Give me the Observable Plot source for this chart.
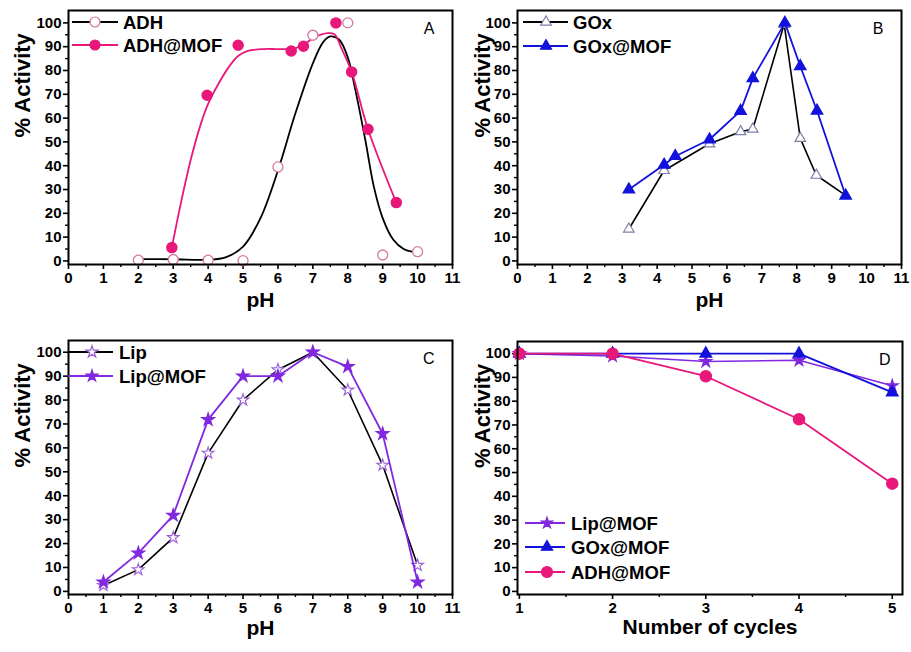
<!DOCTYPE html>
<html><head><meta charset="utf-8">
<script src="https://cdn.jsdelivr.net/npm/d3@7"></script>
<script src="https://cdn.jsdelivr.net/npm/@observablehq/plot@0.6"></script>
<style>
body{margin:0;background:#fff;}
#wrap{position:relative;width:911px;height:652px;overflow:hidden;background:#fff;}
.panel{position:absolute;}
</style></head>
<body><div id="wrap"></div>
<script>
// ---------- tick values ----------
const pHTicks = [0,1,2,3,4,5,6,7,8,9,10,11];
const pHMinor = [0.5,1.5,2.5,3.5,4.5,5.5,6.5,7.5,8.5,9.5,10.5];
const cycleTicks = [1,2,3,4,5];
const cycleMinor = [1.5,2.5,3.5,4.5];
const actTicks = [0,10,20,30,40,50,60,70,80,90,100];
const actMinor = [5,15,25,35,45,55,65,75,85,95];

// ---------- Panel A : ADH ----------
const adhPH   = [2,3,4,5,6,7,8,9,10];
const adhAct  = [0.3,0.6,0.3,0.1,39.5,94.8,100,2.5,3.9];
const adhFitPH  = [2,3,4,4.5,5.0,5.5,6.0,6.5,7.0,7.3,7.5,7.75,8.0,8.2,8.5,8.75,9.0,9.3,9.6,9.8,10];
const adhFitAct = [0.8,0.7,0.5,1.5,6,18,38,62,83,92,94.3,93,85.5,73,51,31,18,9,5,4,3.9];
const adhMofPH  = [2.96,3.97,4.86,6.38,6.73,7.66,8.11,8.58,9.39];
const adhMofAct = [5.6,69.6,90.6,88.2,90.2,100,79.4,55.3,24.5];
const adhMofFitPH  = [2.96,3.23,3.51,3.8,4.0,4.28,4.57,4.85,5.14,5.6,6.0,6.48,6.76,7.05,7.43,7.62,7.81,8.11,8.58,9.39];
const adhMofFitAct = [5.6,25,43,58,66,74,81,86,88.2,89,89,89.3,91,94,95.7,95.2,89.6,79.4,55.3,24.5];

// ---------- Panel B : GOx ----------
const goxPH  = [3.19,4.2,5.5,6.39,6.74,7.64,8.1,8.56,9.4];
const goxAct = [13.4,38,49.2,54.3,55.4,99.4,51.5,36,27.5];
const goxMofPH  = [3.19,4.2,4.52,5.5,6.39,6.74,7.66,8.1,8.58,9.4];
const goxMofAct = [30,40.4,44,51,63,76.7,100,81.8,63.1,27.4];

// ---------- Panel C : Lip ----------
const lipPH  = [1,2,3,4,5,6,7,8,9,10];
const lipAct = [2.5,9.1,22.5,57.8,80,92.7,100,84.2,52.8,10.9];
const lipMofAct = [3.9,16,31.8,71.8,90,90,100,94,65.9,3.9];

// ---------- Panel D : reuse cycles ----------
const cycles = [1,2,3,4,5];
const lipMofCyc = [100,99,96.7,97.2,86.5];
const goxMofCyc = [100,100,100,100,83.7];
const adhMofCyc = [100,100,90.5,72.4,45.3];

// ---------- colours ----------
const PINK = "#E8177A", BLUE = "#1212DC", PURPLE = "#8128E0";
const ADH_HOLLOW = "#D77AA0", GOX_HOLLOW = "#7C7CA8", LIP_HOLLOW = "#9B5FD6";
const FONT = "'Liberation Sans', Arial, sans-serif";

const pts = (xs, ys) => xs.map((x, i) => ({x, y: ys[i]}));

function panel(cfg) {
  const {left, top, width, height, margins, xDomain, yDomain, xTicks, xMinor,
         xLabel, xLabelDy, yLabelDx, letter, letterDx, letterDy, marks, legend} = cfg;
  const svg = Plot.plot({
    width, height,
    marginTop: margins[0], marginRight: margins[1], marginBottom: margins[2], marginLeft: margins[3],
    style: {fontFamily: FONT, fontSize: "15px", fontWeight: "bold", color: "black", background: "transparent", overflow: "visible"},
    x: {domain: xDomain},
    y: {domain: yDomain},
    marks: [
      Plot.axisX({ticks: xTicks, tickSize: 5, tickPadding: 3, strokeWidth: 1.6, label: null, fontSize: 15, tickFormat: d3.format("d")}),
      Plot.axisX({ticks: xMinor, tickSize: 3, strokeWidth: 1.4, tickFormat: () => "", label: null}),
      Plot.axisY({ticks: actTicks, tickSize: 5, tickPadding: 2, strokeWidth: 1.6, label: null, fontSize: 15, tickFormat: d3.format("d")}),
      Plot.axisY({ticks: actMinor, tickSize: 3, strokeWidth: 1.4, tickFormat: () => "", label: null}),
      ...marks,
      Plot.frame({stroke: "black", strokeWidth: 2}),
      Plot.text([xLabel], {frameAnchor: "bottom", dy: xLabelDy, fontSize: 21, fontWeight: "bold"}),
      Plot.text(["% Activity"], {frameAnchor: "left", dx: yLabelDx, rotate: -90, fontSize: 22, fontWeight: "bold"}),
      Plot.text([letter], {frameAnchor: "top-right", dx: letterDx, dy: letterDy, fontSize: 16, fontWeight: "normal"})
    ]
  });
  // legend
  const g = d3.select(svg).append("g");
  legend.items.forEach((it, i) => {
    const y = legend.ys[i];
    g.append("line").attr("x1", legend.x0).attr("x2", legend.x1).attr("y1", y).attr("y2", y)
      .attr("stroke", it.line).attr("stroke-width", 1.8);
    g.append("path").attr("transform", `translate(${legend.xm},${y})`)
      .attr("d", d3.symbol(it.symbol, Math.PI * it.r * it.r)())
      .attr("fill", it.fill).attr("stroke", it.stroke).attr("stroke-width", 1.2);
    g.append("text").attr("x", legend.xt).attr("y", y).attr("dy", "0.36em")
      .attr("text-anchor", "start")
      .attr("font-size", 18.5).attr("font-weight", "bold").attr("fill", "black").text(it.label);
  });
  const div = document.createElement("div");
  div.className = "panel";
  div.style.left = left + "px"; div.style.top = top + "px";
  div.appendChild(svg);
  document.getElementById("wrap").appendChild(div);
}

const W = 455, H = 326;

// Panel A
panel({
  left: 0, top: 0, width: W, height: H, margins: [10, 3, 62, 68],
  xDomain: [0, 11], yDomain: [-1.5, 105.2], xTicks: pHTicks, xMinor: pHMinor,
  xLabel: "pH", xLabelDy: 42, yLabelDx: -46, letter: "A", letterDx: -18, letterDy: 12,
  marks: [
    Plot.line(pts(adhFitPH, adhFitAct), {x: "x", y: "y", stroke: "black", strokeWidth: 1.8, curve: "catmull-rom"}),
    Plot.line(pts(adhMofFitPH, adhMofFitAct), {x: "x", y: "y", stroke: PINK, strokeWidth: 1.8, curve: "catmull-rom"}),
    Plot.dot(pts(adhPH, adhAct), {x: "x", y: "y", r: 5, symbol: "circle", fill: "white", stroke: ADH_HOLLOW, strokeWidth: 1.3}),
    Plot.dot(pts(adhMofPH, adhMofAct), {x: "x", y: "y", r: 5, symbol: "circle", fill: PINK, stroke: PINK})
  ],
  legend: {x0: 72, x1: 118, xm: 95, xt: 123, ys: [22, 45], items: [
    {label: "ADH", line: "black", symbol: d3.symbolCircle, r: 5, fill: "white", stroke: ADH_HOLLOW},
    {label: "ADH@MOF", line: PINK, symbol: d3.symbolCircle, r: 5, fill: PINK, stroke: PINK}
  ]}
});

// Panel B
panel({
  left: W, top: 0, width: 456, height: H, margins: [10, 10, 62, 62],
  xDomain: [0, 11], yDomain: [-1.5, 105.2], xTicks: pHTicks, xMinor: pHMinor,
  xLabel: "pH", xLabelDy: 42, yLabelDx: -35, letter: "B", letterDx: -18, letterDy: 12,
  marks: [
    Plot.line(pts(goxPH, goxAct), {x: "x", y: "y", stroke: "black", strokeWidth: 1.6}),
    Plot.dot(pts(goxPH, goxAct), {x: "x", y: "y", r: 3.9, symbol: "triangle", fill: "white", stroke: GOX_HOLLOW, strokeWidth: 1.2}),
    Plot.line(pts(goxMofPH, goxMofAct), {x: "x", y: "y", stroke: BLUE, strokeWidth: 1.8}),
    Plot.dot(pts(goxMofPH, goxMofAct), {x: "x", y: "y", r: 4.1, symbol: "triangle", fill: BLUE, stroke: BLUE})
  ],
  legend: {x0: 68, x1: 113, xm: 91, xt: 118, ys: [22, 46], items: [
    {label: "GOx", line: "black", symbol: d3.symbolTriangle, r: 3.9, fill: "white", stroke: GOX_HOLLOW},
    {label: "GOx@MOF", line: BLUE, symbol: d3.symbolTriangle, r: 4.1, fill: BLUE, stroke: BLUE}
  ]}
});

// Panel C
panel({
  left: 0, top: H, width: W, height: H, margins: [14, 3, 58, 68],
  xDomain: [0, 11], yDomain: [-1.3, 104.9], xTicks: pHTicks, xMinor: pHMinor,
  xLabel: "pH", xLabelDy: 40, yLabelDx: -46, letter: "C", letterDx: -18, letterDy: 12,
  marks: [
    Plot.line(pts(lipPH, lipAct), {x: "x", y: "y", stroke: "black", strokeWidth: 1.6}),
    Plot.dot(pts(lipPH, lipAct), {x: "x", y: "y", r: 3.7, symbol: "star", fill: "white", stroke: LIP_HOLLOW, strokeWidth: 1.1}),
    Plot.line(pts(lipPH, lipMofAct), {x: "x", y: "y", stroke: PURPLE, strokeWidth: 1.8}),
    Plot.dot(pts(lipPH, lipMofAct), {x: "x", y: "y", r: 3.7, symbol: "star", fill: PURPLE, stroke: PURPLE})
  ],
  legend: {x0: 68, x1: 113, xm: 92, xt: 119, ys: [26, 50], items: [
    {label: "Lip", line: "black", symbol: d3.symbolStar, r: 3.7, fill: "white", stroke: LIP_HOLLOW},
    {label: "Lip@MOF", line: PURPLE, symbol: d3.symbolStar, r: 3.7, fill: PURPLE, stroke: PURPLE}
  ]}
});

// Panel D
panel({
  left: W, top: H, width: 456, height: H, margins: [15, 9, 58, 62],
  xDomain: [0.98, 5.11], yDomain: [-1.3, 105.1], xTicks: cycleTicks, xMinor: cycleMinor,
  xLabel: "Number of cycles", xLabelDy: 39, yLabelDx: -35, letter: "D", letterDx: -12, letterDy: 12,
  marks: [
    Plot.line(pts(cycles, lipMofCyc), {x: "x", y: "y", stroke: PURPLE, strokeWidth: 1.6}),
    Plot.dot(pts(cycles, lipMofCyc), {x: "x", y: "y", r: 3.5, symbol: "star", fill: PURPLE, stroke: PURPLE}),
    Plot.line(pts(cycles, goxMofCyc), {x: "x", y: "y", stroke: BLUE, strokeWidth: 1.8}),
    Plot.dot(pts(cycles, goxMofCyc), {x: "x", y: "y", r: 4.2, symbol: "triangle", fill: BLUE, stroke: BLUE}),
    Plot.line(pts(cycles, adhMofCyc), {x: "x", y: "y", stroke: PINK, strokeWidth: 1.8}),
    Plot.dot(pts(cycles, adhMofCyc), {x: "x", y: "y", r: 5.5, symbol: "circle", fill: PINK, stroke: PINK})
  ],
  legend: {x0: 70, x1: 110, xm: 92, xt: 116, ys: [197, 221, 246], items: [
    {label: "Lip@MOF", line: PURPLE, symbol: d3.symbolStar, r: 3.5, fill: PURPLE, stroke: PURPLE},
    {label: "GOx@MOF", line: BLUE, symbol: d3.symbolTriangle, r: 4.2, fill: BLUE, stroke: BLUE},
    {label: "ADH@MOF", line: PINK, symbol: d3.symbolCircle, r: 5.5, fill: PINK, stroke: PINK}
  ]}
});
</script>
</body></html>
